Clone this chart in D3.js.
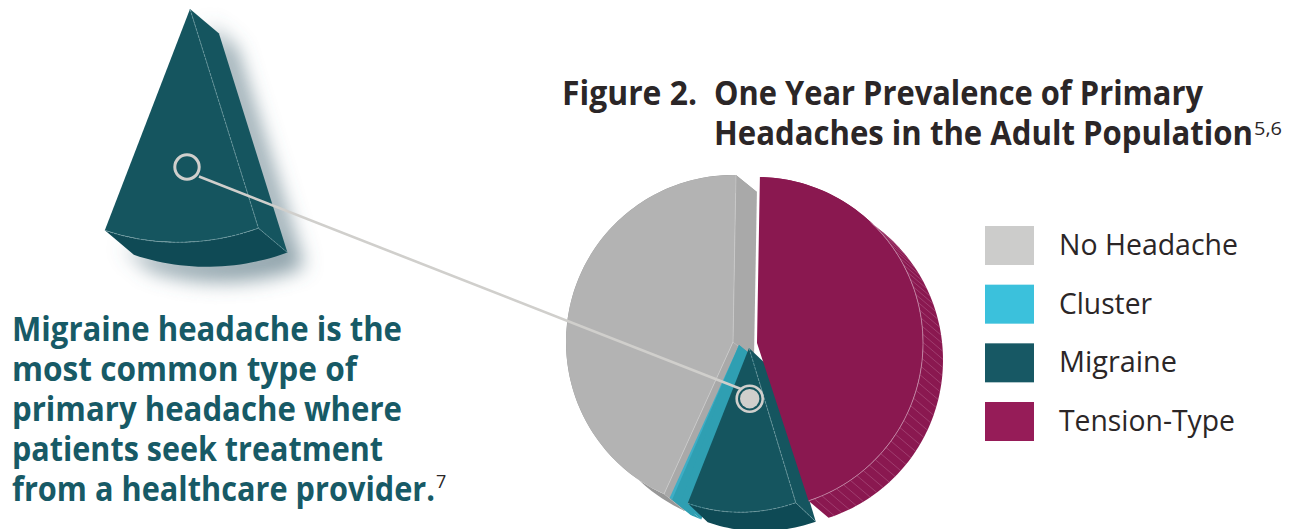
<!DOCTYPE html>
<html>
<head>
<meta charset="utf-8">
<title>One Year Prevalence of Primary Headaches</title>
<script src="https://cdnjs.cloudflare.com/ajax/libs/d3/7.8.5/d3.min.js"></script>
<style>
  html, body { margin: 0; padding: 0; background: #fff; }
  svg { display: block; }
  text { font-family: "Open Sans", "Noto Sans", sans-serif; }
</style>
</head>
<body>
<svg id="chart" width="1296" height="529" viewBox="0 0 1296 529"></svg>
<script>
// Slice order runs clockwise from twelve o'clock.
const pieCategories = ["Tension-Type", "Migraine", "Cluster", "No Headache"];
const pieValues = [44.7, 10.7, 1.1, 43.5];

// Legend reads top to bottom in this order.
const legendCategories = ["No Headache", "Cluster", "Migraine", "Tension-Type"];
const legendColors = ["#cccccb", "#3bc1dc", "#175864", "#961c58"];

const titleLines = ["Figure 2.", "One Year Prevalence of Primary", "Headaches in the Adult Population"];
const titleNote = "5,6";
const bodyLines = [
  "Migraine headache is the",
  "most common type of",
  "primary headache where",
  "patients seek treatment",
  "from a healthcare provider."
];
const bodyNote = "7";

const svg = d3.select("#chart");
const defs = svg.append("defs");
const rad = d => d * Math.PI / 180;

defs.append("filter").attr("id", "soft-shadow")
    .attr("x", "-30%").attr("y", "-30%").attr("width", "160%").attr("height", "160%")
  .append("feGaussianBlur").attr("stdDeviation", 9.5);

const rimShade = defs.append("linearGradient").attr("id", "tension-rim")
  .attr("gradientUnits", "userSpaceOnUse")
  .attr("x1", 0).attr("y1", 220).attr("x2", 0).attr("y2", 515);
rimShade.append("stop").attr("offset", 0).attr("stop-color", "#8a1850");
rimShade.append("stop").attr("offset", 0.45).attr("stop-color", "#7d1149");
rimShade.append("stop").attr("offset", 1).attr("stop-color", "#6b073c");

// The pie layout supplies every slice's angles; each wedge is then placed on its own.
const pie = d3.pie().sort(null).startAngle(rad(1)).endAngle(rad(361));
const arcs = pie(pieValues);
const angleOf = Object.fromEntries(pieCategories.map((c, i) => [c, arcs[i]]));

const wedgeStyle = {
  "No Headache":  { apex: [733, 342], r: 167, v: [21, 17], spin: 0,   skew: 0,  top: "#b3b3b3", side: "#a9a9a9", rim: "#989898", edge: "#c9c9c9" },
  "Cluster":      { apex: [739, 345], r: 168, v: [21, 17], spin: 0,   skew: 0,  top: "#3eaec6", side: "#2f9fb2", rim: "#2f9fb2", edge: "none" },
  "Migraine":     { apex: [749, 348], r: 164, v: [20, 20], spin: 1.5, skew: -3, top: "#15555f", side: "#15555f", rim: "#0e4a55", edge: "#6f9ca2" },
  "Tension-Type": { apex: [757, 343], r: 166, v: [20, 17], spin: 0,   skew: 0,  top: "#8a1850", side: "url(#tension-rim)", rim: "url(#tension-rim)", edge: "#c58aa8" }
};

const closedLine = d3.line().curve(d3.curveLinearClosed);

function arcPoints(r, a0, a1) {
  const n = Math.ceil(Math.abs(a1 - a0) / rad(1.5));
  return d3.range(n + 1).map(i => d3.pointRadial(a0 + (a1 - a0) * i / n, r));
}
function sweepPath(r, a0, a1, v) {
  const outer = arcPoints(r, a0, a1);
  const moved = outer.map(p => [p[0] + v[0], p[1] + v[1]]).reverse();
  return closedLine(outer.concat(moved));
}
function cutPath(r, a, v) {
  const p = d3.pointRadial(a, r);
  return closedLine([[0, 0], p, [p[0] + v[0], p[1] + v[1]], v]);
}
function topPath(r, a0, a1) {
  return d3.arc()({ innerRadius: 0, outerRadius: r, startAngle: a0, endAngle: a1 });
}

function drawWedge(parent, name, s) {
  const a0 = angleOf[name].startAngle + rad(s.spin);
  const a1 = angleOf[name].endAngle + rad(s.spin);
  const g = parent.append("g").attr("transform", `translate(${s.apex}) skewY(${s.skew})`);
  const dx = s.v[0], dy = s.v[1];

  g.append("path").attr("d", sweepPath(s.r, a0, a1, s.v)).attr("fill", s.rim);

  if (name === "Tension-Type") {
    // Fine ribs along the curved outer wall.
    g.selectAll("line.rib")
      .data(d3.range(a0 + rad(44), a1, rad(2.8)))
      .join("line").attr("class", "rib")
      .attr("x1", a => d3.pointRadial(a, s.r)[0]).attr("y1", a => d3.pointRadial(a, s.r)[1])
      .attr("x2", a => d3.pointRadial(a, s.r)[0] + dx).attr("y2", a => d3.pointRadial(a, s.r)[1] + dy)
      .attr("stroke", "#b2608a").attr("stroke-width", 0.7).attr("stroke-opacity", 0.75);
  } else if (name === "No Headache") {
    g.append("path").attr("d", cutPath(s.r, a1, s.v)).attr("fill", s.side);
    g.append("path").attr("d", cutPath(s.r, a0, s.v)).attr("fill", s.side);
  } else if (name === "Migraine") {
    g.append("path").attr("d", cutPath(s.r, a0, s.v)).attr("fill", s.side);
  }

  g.append("path").attr("d", topPath(s.r, a0, a1)).attr("fill", s.top);

  if (name === "Cluster") {
    // Its cut wall hides all but a sliver of the top face.
    g.append("path").attr("d", cutPath(s.r, a1 - rad(1), s.v)).attr("fill", s.side);
    g.append("path").attr("d", cutPath(s.r, a0, s.v)).attr("fill", s.side);
  }

  const edges = g.append("g").attr("fill", "none").attr("stroke", s.edge).attr("stroke-width", 0.8);
  if (name === "No Headache") {
    edges.append("path").attr("d", d3.line()([[0, 0], d3.pointRadial(a1, s.r)]));
    edges.append("path").attr("d", d3.line()([[0, 0], d3.pointRadial(a0, s.r)]));
  } else if (name === "Migraine") {
    edges.attr("stroke-dasharray", "3 1");
    const p = d3.pointRadial(a0, s.r);
    edges.append("path").attr("d", d3.line()([[0, 0], p]));
    edges.append("path").attr("d", d3.line()(arcPoints(s.r, a0, a1)));
    edges.append("path").attr("d", d3.line()([p, [p[0] + dx, p[1] + dy]]));
  } else if (name === "Tension-Type") {
    edges.append("path").attr("d", d3.line()(arcPoints(s.r, a0 + rad(42), a1)));
  }
  return g;
}

// Exploded pie, painted back to front.
const pieGroup = svg.append("g");
["No Headache", "Cluster", "Migraine", "Tension-Type"].forEach(n => drawWedge(pieGroup, n, wedgeStyle[n]));

// Enlarged migraine wedge with a soft drop shadow behind it.
const enlarged = { apex: [190, 9], r: 233, v: [29, 26], spin: 1, skew: -3, top: "#15555f", side: "#15555f", rim: "#0f4a55", edge: "#6f9ca2" };
const enlargedA0 = angleOf["Migraine"].startAngle + rad(enlarged.spin);
const enlargedA1 = angleOf["Migraine"].endAngle + rad(enlarged.spin);
svg.append("g")
    .attr("filter", "url(#soft-shadow)")
    .attr("transform", `translate(${enlarged.apex[0] + 17},${enlarged.apex[1] + 15}) skewY(${enlarged.skew})`)
    .attr("fill", "#52707f").attr("fill-opacity", 0.64)
  .call(g => {
    g.append("path").attr("d", sweepPath(enlarged.r, enlargedA0, enlargedA1, enlarged.v));
    g.append("path").attr("d", cutPath(enlarged.r, enlargedA0, enlarged.v));
  });
drawWedge(svg, "Migraine", enlarged);

// Leader joining the enlarged wedge to its slice in the pie.
const markerColor = "#d0cfcc";
svg.append("line")
  .attr("x1", 199).attr("y1", 176.5).attr("x2", 741).attr("y2", 389)
  .attr("stroke", markerColor).attr("stroke-width", 2.6);
svg.append("circle").attr("cx", 187).attr("cy", 167).attr("r", 12.2)
  .attr("fill", "none").attr("stroke", markerColor).attr("stroke-width", 3);
svg.append("circle").attr("cx", 749.7).attr("cy", 398.7).attr("r", 13)
  .attr("fill", "#15555f").attr("stroke", markerColor).attr("stroke-width", 2.6);
svg.append("circle").attr("cx", 749.7).attr("cy", 398.7).attr("r", 9.7).attr("fill", markerColor);

// Text runs are stretched to the measured line widths.
function line(x, y, str, size, weight, fill, width) {
  const t = svg.append("text").attr("x", x).attr("y", y).text(str)
    .attr("font-size", size).attr("font-weight", weight).attr("fill", fill);
  if (width) t.attr("textLength", width).attr("lengthAdjust", "spacingAndGlyphs");
  return t;
}

const ink = "#2b2627";
const teal = "#175a66";
line(562, 105, titleLines[0], 34, 700, ink, 135);
line(714, 105, titleLines[1], 34, 700, ink, 489);
line(714, 145, titleLines[2], 34, 700, ink, 539);
line(1254, 135, titleNote, 19, 400, ink, 28);

const bodyWidths = [390, 345, 390, 371, 423];
const bodyY = d3.scalePoint().domain(d3.range(bodyLines.length)).range([341, 501]);
bodyLines.forEach((str, i) => line(12, bodyY(i), str, 34, 700, teal, bodyWidths[i]));
line(436, 488, bodyNote, 18, 400, ink);

// Legend
const legendY = d3.scalePoint().domain(legendCategories).range([226, 402]);
const legendWidths = [179, 93, 118, 176];
legendCategories.forEach((c, i) => {
  svg.append("rect").attr("x", 985).attr("y", legendY(c)).attr("width", 49).attr("height", 39)
    .attr("fill", legendColors[i]);
  line(1059, legendY(c) + 29, c, 30, 400, ink, legendWidths[i]);
});
</script>
</body>
</html>
